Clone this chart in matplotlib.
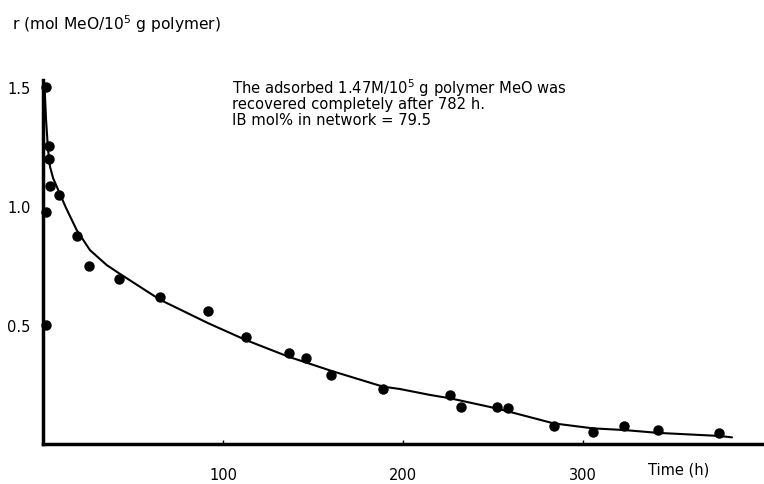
import matplotlib
matplotlib.use("Agg")
import matplotlib.pyplot as plt

# Measured points (time in h, r in mol MeO / 1e5 g polymer)
t_pts = [1.7, 3.5, 3.5, 3.9, 9.1, 1.7, 1.7, 18.7, 25.7, 42.4, 65.2, 91.7,
         112.6, 136.5, 146.1, 160.0, 188.9, 226.1, 232.2, 252.1, 258.2,
         283.7, 305.7, 322.8, 341.8, 375.7]
r_pts = [1.506, 1.257, 1.201, 1.089, 1.051, 0.980, 0.502, 0.879, 0.752,
         0.695, 0.622, 0.562, 0.450, 0.383, 0.364, 0.291, 0.231, 0.207,
         0.155, 0.157, 0.151, 0.076, 0.052, 0.076, 0.059, 0.045]

# Fitted curve
t_curve = [0.8, 1.7, 2.8, 3.9, 5.6, 8.5, 12.8, 18.7, 26.1, 35.4, 42.1, 65.2,
           91.7, 112.6, 136.5, 160.0, 188.9, 198.3, 215.0, 226.1, 252.1,
           283.7, 305.5, 322.8, 341.5, 375.6, 382.8]
r_curve = [1.52, 1.367, 1.241, 1.170, 1.122, 1.071, 0.996, 0.903, 0.818,
           0.755, 0.721, 0.608, 0.510, 0.439, 0.368, 0.309, 0.242, 0.232,
           0.207, 0.193, 0.150, 0.087, 0.066, 0.059, 0.047, 0.034, 0.028]

x_ticks = [100, 200, 300]
x_ticklabels = ["100", "200", "300"]
y_ticks = [0.5, 1.0, 1.5]
y_ticklabels = ["0.5", "1.0", "1.5"]

W, H = 764, 484
fig = plt.figure(figsize=(W / 100, H / 100), dpi=100)
plt.rcParams['font.family'] = ['DejaVu Sans']

ax_left, ax_bottom = 43 / W, 1 - 444 / H
ax_top = 1 - 80 / H
ax = fig.add_axes([ax_left, ax_bottom, 1 - ax_left, ax_top - ax_bottom])

ax.plot(t_curve, r_curve, color="black", lw=1.5, solid_capstyle="round", zorder=2)
ax.plot(t_pts, r_pts, "o", color="black", ms=6.5, clip_on=False, zorder=3)

ax.set_xlim(0, (W - 43) / 1.8)
ax.set_ylim(0, (444 - 80) / 237)

for s in ["top", "right"]:
    ax.spines[s].set_visible(False)
for s in ["left", "bottom"]:
    ax.spines[s].set_linewidth(2.5)
    ax.spines[s].set_color("black")

ax.set_xticks(x_ticks)
ax.set_xticklabels(x_ticklabels, fontsize=10.5)
ax.set_yticks(y_ticks)
ax.set_yticklabels(y_ticklabels, fontsize=10.5)
ax.tick_params(axis="x", direction="in", length=3, width=1, pad=17)
ax.tick_params(axis="y", length=0, pad=9)

fig.text(12 / W, 1 - 24 / H, r"r (mol MeO/10$^5$ g polymer)", fontsize=11.2,
         ha="left", va="center")
fig.text(679 / W, 1 - 470 / H, "Time (h)", fontsize=10.5, ha="center", va="center")

lines = [r"The adsorbed 1.47M/10$^5$ g polymer MeO was",
         "recovered completely after 782 h.",
         "IB mol% in network = 79.5"]
baselines = [94, 109.5, 125]
for txt, yb in zip(lines, baselines):
    fig.text(232 / W, 1 - yb / H, txt, fontsize=10.6, ha="left", va="baseline")

fig.savefig("out.png", dpi=100)
